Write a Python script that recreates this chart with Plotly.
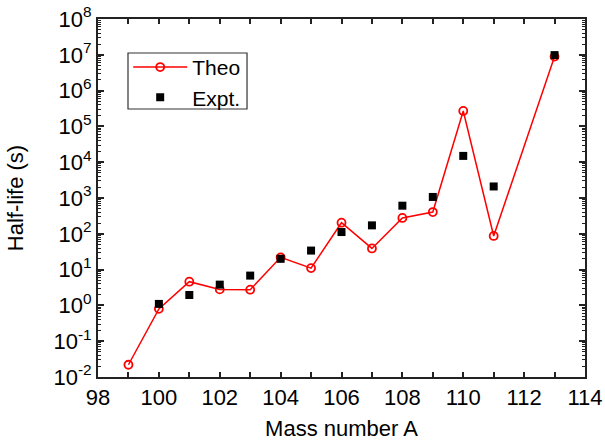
import plotly.graph_objects as go

mass_theo = [99, 100, 101, 102, 103, 104, 105, 106, 107, 108, 109, 110, 111, 113]
halflife_theo = [0.022, 0.8, 4.6, 2.8, 2.75, 22, 11, 204, 39, 277, 405, 2.7e5, 87, 8.9e6]

mass_expt = [100, 101, 102, 103, 104, 105, 106, 107, 108, 109, 110, 111, 113]
halflife_expt = [1.1, 1.95, 3.8, 6.8, 20, 34, 112, 172, 610, 1070, 1.5e4, 2100, 9.8e6]

y_exponents = [-2, -1, 0, 1, 2, 3, 4, 5, 6, 7, 8]
y_tickvals = [10.0 ** e for e in y_exponents]
y_ticktext = ["10<sup>%d</sup>" % e for e in y_exponents]

font = "Liberation Sans, Arial, sans-serif"
axis_color = "#222222"

fig = go.Figure()
fig.add_trace(go.Scatter(
    x=mass_theo, y=halflife_theo, mode="lines+markers", name="Theo",
    line=dict(color="#ff0000", width=1.5),
    marker=dict(symbol="circle-open", size=8, color="#ff0000", line=dict(width=1.8)),
))
fig.add_trace(go.Scatter(
    x=mass_expt, y=halflife_expt, mode="markers", name="Expt.",
    marker=dict(symbol="square", size=8, color="black"),
))

# legend frame
fig.add_shape(type="rect", xref="paper", yref="paper",
              x0=0.0616, x1=0.306, y0=0.7486, y1=0.905,
              line=dict(color="#333333", width=1.2), fillcolor="rgba(0,0,0,0)",
              layer="above")

fig.update_layout(
    width=605, height=441,
    margin=dict(l=98, r=20, t=19, b=64),
    paper_bgcolor="white", plot_bgcolor="white",
    font=dict(family=font, size=22, color="black"),
    showlegend=True,
    legend=dict(
        x=0.062, y=0.922, xanchor="left", yanchor="top",
        borderwidth=0, bgcolor="rgba(0,0,0,0)",
        font=dict(size=21, family=font), itemwidth=54,
        tracegroupgap=0,
    ),
    xaxis=dict(
        range=[98, 114], dtick=2, tick0=98, automargin=False,
        ticks="inside", ticklen=5, tickwidth=1.5, tickcolor=axis_color,
        showline=True, linecolor=axis_color, linewidth=2, mirror="allticks",
        showgrid=False, zeroline=False,
        minor=dict(dtick=1, ticks="inside", ticklen=5, tickwidth=1.5,
                   tickcolor=axis_color, showgrid=False),
        title=dict(text="Mass number A", font=dict(size=22, family=font), standoff=16),
        tickfont=dict(size=22, family=font),
    ),
    yaxis=dict(
        type="log", range=[-2, 8], automargin=False,
        tickmode="array", tickvals=y_tickvals, ticktext=y_ticktext,
        ticks="inside", ticklen=6, tickwidth=1.5, tickcolor=axis_color,
        showline=True, linecolor=axis_color, linewidth=2, mirror="allticks",
        showgrid=False, zeroline=False,
        minor=dict(dtick="D1", ticks="inside", ticklen=3, tickwidth=1,
                   tickcolor=axis_color, showgrid=False),
        title=dict(text="Half-life (s)", font=dict(size=22, family=font), standoff=24),
        tickfont=dict(size=22, family=font),
    ),
)

fig.write_html("out.html", config={"displayModeBar": False},
               post_script="document.body.style.margin='0';")
